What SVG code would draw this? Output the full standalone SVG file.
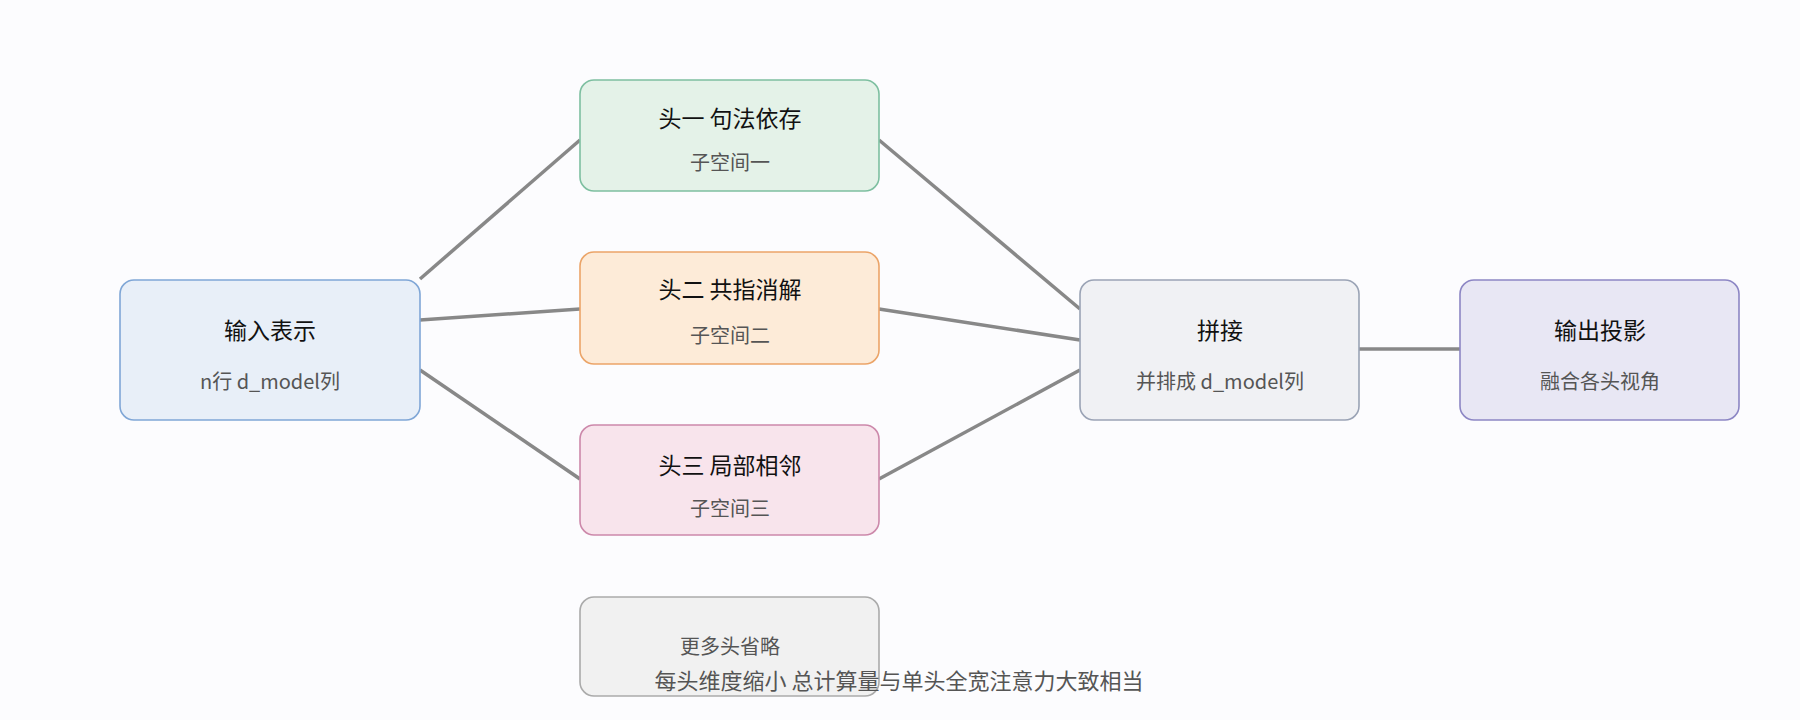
<svg xmlns="http://www.w3.org/2000/svg" width="1800" height="720" viewBox="0 0 1800 720">
<style>
text{font-family:"Noto Sans CJK SC","Liberation Sans",sans-serif;text-anchor:middle}
.t{font-size:23px;fill:#111}
.s{font-size:20px;fill:#555}
rect{stroke-width:1.6}
.c line{stroke:#888;stroke-width:3.5}
</style>
<rect width="1800" height="720" fill="#fcfcfe"/>
<g class="c">
<line x1="420" y1="279" x2="580" y2="140"/>
<line x1="420" y1="320" x2="580" y2="309"/>
<line x1="420" y1="370" x2="580" y2="479"/>
<line x1="879" y1="140" x2="1080" y2="309"/>
<line x1="879" y1="309" x2="1080" y2="340"/>
<line x1="879" y1="479" x2="1080" y2="370"/>
<line x1="1359" y1="349" x2="1460" y2="349"/>
</g>
<g id="input"><rect x="120" y="280" width="300" height="140" rx="14" fill="#e8eff8" stroke="#7fa6d6"/><text class="t" x="270" y="339">输入表示</text><text class="s" x="270" y="389">n行 d_model列</text></g>
<g id="head1"><rect x="580" y="80" width="299" height="111" rx="14" fill="#e4f2e8" stroke="#7dbfa0"/><text class="t" x="730" y="127">头一 句法依存</text><text class="s" x="730" y="170">子空间一</text></g>
<g id="head2"><rect x="580" y="252" width="299" height="112" rx="14" fill="#fdebd8" stroke="#eba468"/><text class="t" x="730" y="298">头二 共指消解</text><text class="s" x="730" y="343">子空间二</text></g>
<g id="head3"><rect x="580" y="425" width="299" height="110" rx="14" fill="#f8e4ec" stroke="#cc88aa"/><text class="t" x="730" y="474">头三 局部相邻</text><text class="s" x="730" y="516">子空间三</text></g>
<g id="more"><rect x="580" y="597" width="299" height="99" rx="14" fill="#f1f1f1" stroke="#aaaaaa"/><text class="s" x="730" y="654">更多头省略</text></g>
<g id="concat"><rect x="1080" y="280" width="279" height="140" rx="14" fill="#f0f1f4" stroke="#9aa3b5"/><text class="t" x="1220" y="339">拼接</text><text class="s" x="1220" y="389">并排成 d_model列</text></g>
<g id="output"><rect x="1460" y="280" width="279" height="140" rx="14" fill="#e8e7f4" stroke="#8c86c4"/><text class="t" x="1600" y="339">输出投影</text><text class="s" x="1600" y="389">融合各头视角</text></g>
<text x="899" y="689" style="font-size:22px;fill:#555">每头维度缩小 总计算量与单头全宽注意力大致相当</text>
</svg>
